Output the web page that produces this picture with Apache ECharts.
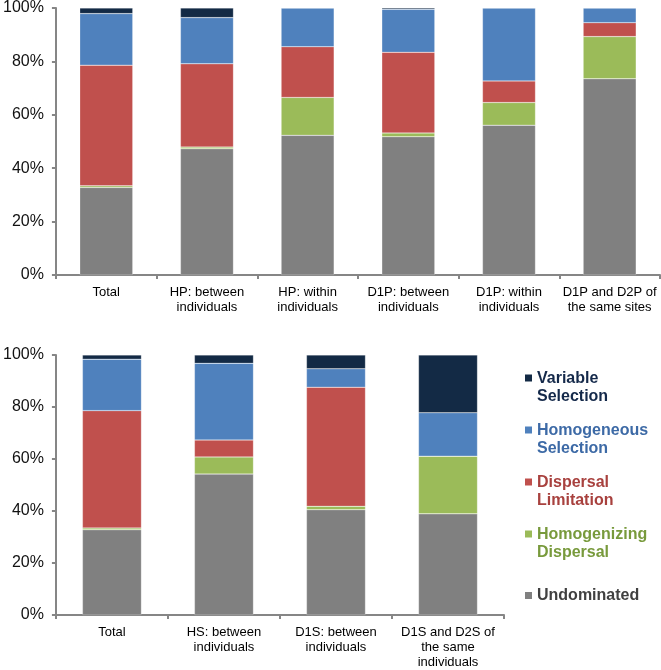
<!DOCTYPE html>
<html><head><meta charset="utf-8">
<script src="https://cdn.jsdelivr.net/npm/echarts@6/dist/echarts.min.js"></script>
<style>html,body{margin:0;padding:0;background:#fff}#c{width:661px;height:670px}</style>
</head><body><div id="c"></div>
<script>
// ---- data ----
const topCategories = ['Total', 'HP: between\nindividuals', 'HP: within\nindividuals', 'D1P: between\nindividuals', 'D1P: within\nindividuals', 'D1P and D2P of\nthe same sites'];
const topUndominated   = [32.8, 47.3, 52.3, 51.8, 56.1, 73.5];
const topHomogenizing  = [0.6, 0.6, 14.2, 1.4, 8.5, 15.8];
const topDispersal     = [45.2, 31.2, 19.0, 30.2, 8.1, 5.2];
const topHomogeneous   = [19.3, 17.3, 14.5, 16.1, 27.3, 5.5];
const topVariable      = [2.1, 3.6, 0, 0.5, 0, 0];

const botCategories = ['Total', 'HS: between\nindividuals', 'D1S: between\nindividuals', 'D1S and D2S of\nthe same\nindividuals'];
const botUndominated   = [32.8, 54.2, 40.5, 38.9];
const botHomogenizing  = [0.7, 6.6, 1.3, 22.2];
const botDispersal     = [45.1, 6.5, 45.8, 0];
const botHomogeneous   = [19.8, 29.5, 7.1, 16.7];
const botVariable      = [1.6, 3.2, 5.3, 22.2];

const seriesNames = ['Undominated', 'Homogenizing Dispersal', 'Dispersal Limitation', 'Homogeneous Selection', 'Variable Selection'];
const legendLabels = ['Undominated', 'Homogenizing\nDispersal', 'Dispersal\nLimitation', 'Homogeneous\nSelection', 'Variable\nSelection'];
const yTicks = [0, 20, 40, 60, 80, 100];

// ---- styles ----
const colors = ['#808080', '#9BBB59', '#C0504D', '#4F81BD', '#132A45'];
const textColors = ['#404040', '#789A3C', '#A8413E', '#3D6AA6', '#14294A'];
const axisColor = '#868686';

const chart = echarts.init(document.getElementById('c'), null, {renderer: 'canvas'});

function xAxis(cats, gridIndex) {
  return {
    type: 'category', data: cats, gridIndex: gridIndex,
    axisLine: {lineStyle: {color: axisColor, width: 2}},
    axisTick: {show: true, length: 4, lineStyle: {color: axisColor, width: 2}},
    axisLabel: {color: '#000', fontSize: 13, fontFamily: 'Liberation Sans, Arial', lineHeight: 15, margin: 10, interval: 0}
  };
}
function yAxis(gridIndex) {
  return {
    type: 'value', gridIndex: gridIndex, min: yTicks[0], max: yTicks[yTicks.length - 1], interval: yTicks[1] - yTicks[0],
    axisLine: {show: true, lineStyle: {color: axisColor, width: 2}},
    axisTick: {show: true, length: 4, lineStyle: {color: axisColor, width: 2}},
    splitLine: {show: false},
    axisLabel: {color: '#111', fontSize: 16, fontFamily: 'Liberation Sans, Arial', margin: 12, formatter: '{value}%'}
  };
}

const topData = [topUndominated, topHomogenizing, topDispersal, topHomogeneous, topVariable];
const botData = [botUndominated, botHomogenizing, botDispersal, botHomogeneous, botVariable];

const series = [];
seriesNames.forEach((name, i) => {
  series.push({
    name: name, type: 'bar', stack: 'top', xAxisIndex: 0, yAxisIndex: 0,
    barWidth: 53, data: topData[i],
    itemStyle: {color: colors[i], borderColor: 'rgba(255,255,255,0.45)', borderWidth: 0.5},
    emphasis: {disabled: true}
  });
  series.push({
    name: name, type: 'bar', stack: 'bot', xAxisIndex: 1, yAxisIndex: 1,
    barWidth: 59, data: botData[i],
    itemStyle: {color: colors[i], borderColor: 'rgba(255,255,255,0.45)', borderWidth: 0.5},
    emphasis: {disabled: true}
  });
});

const iconTwoLine = 'path://M0,5.5L7,5.5L7,12.5L0,12.5Z M0,0 M0,37';
const iconOneLine = 'path://M0,15L7,15L7,22L0,22Z M0,0 M0,37';

const legendData = [];
for (let i = seriesNames.length - 1; i >= 0; i--) {
  legendData.push({
    name: seriesNames[i],
    icon: i === 0 ? iconOneLine : iconTwoLine,
    textStyle: {color: textColors[i]}
  });
}

chart.setOption({
  animation: false,
  grid: [
    {left: 55, top: 6, width: 605, height: 269, containLabel: false},
    {left: 53, top: 355, width: 451, height: 263, containLabel: false}
  ],
  xAxis: [xAxis(topCategories, 0), xAxis(botCategories, 1)],
  yAxis: [yAxis(0), yAxis(1)],
  legend: {
    orient: 'vertical', left: 525, top: 369, padding: 0,
    itemWidth: 7, itemHeight: 37, itemGap: 15,
    selectedMode: false,
    data: legendData,
    formatter: function (name) { return legendLabels[seriesNames.indexOf(name)]; },
    textStyle: {fontSize: 16, fontWeight: 'bold', fontFamily: 'Liberation Sans, Arial', lineHeight: 18.5, padding: [0, 0, 0, 0]},
    itemStyle: {borderWidth: 0}
  },
  series: series
});
</script>
</body></html>
